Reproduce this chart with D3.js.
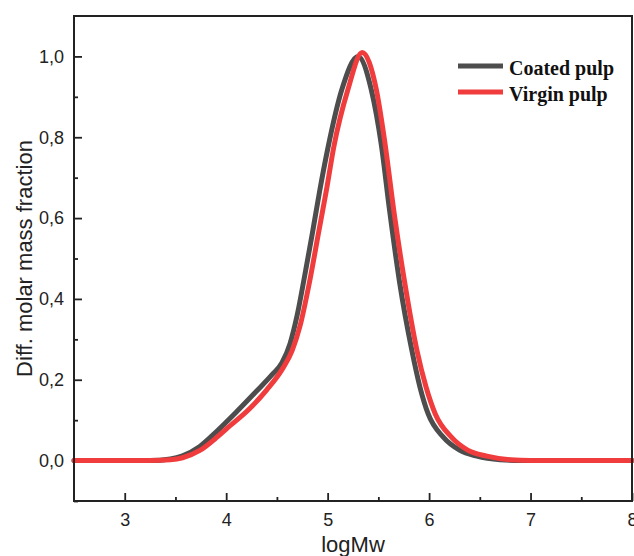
<!DOCTYPE html>
<html>
<head>
<meta charset="utf-8">
<script src="https://cdn.jsdelivr.net/npm/d3@7"></script>
<style>
  body { margin: 0; background: #fff; }
  svg { display: block; }
  .tick text { font-family: "Liberation Sans", Arial, sans-serif; font-size: 18px; fill: #222; }
</style>
</head>
<body>
<div id="chart"></div>
<script>
// series: [logMw, diff. molar mass fraction]
const coatedPulp = [
  [2.5, 0], [3.25, 0], [3.45, 0.004], [3.57, 0.012], [3.74, 0.035], [3.91, 0.073],
  [4.1, 0.12], [4.3, 0.172], [4.45, 0.212], [4.55, 0.242], [4.63, 0.29],
  [4.7, 0.36], [4.77, 0.452], [4.85, 0.563], [4.92, 0.665], [5.0, 0.77],
  [5.14, 0.918], [5.30, 1.0], [5.43, 0.918], [5.53, 0.78], [5.61, 0.62],
  [5.71, 0.44], [5.83, 0.273], [5.91, 0.182], [5.99, 0.116], [6.14, 0.058],
  [6.30, 0.026], [6.47, 0.011], [6.70, 0.002], [6.9, 0], [8, 0]
];
const virginPulp = [
  [2.5, 0], [3.25, 0], [3.45, 0.002], [3.57, 0.007], [3.74, 0.025], [3.91, 0.058],
  [4.0, 0.078], [4.23, 0.128], [4.4, 0.175], [4.55, 0.225], [4.65, 0.272],
  [4.73, 0.335], [4.82, 0.44], [4.91, 0.563], [4.99, 0.672], [5.06, 0.775],
  [5.20, 0.918], [5.34, 1.01], [5.48, 0.918], [5.56, 0.794], [5.66, 0.604],
  [5.76, 0.44], [5.88, 0.273], [5.97, 0.182], [6.06, 0.116], [6.22, 0.058],
  [6.38, 0.026], [6.57, 0.011], [6.80, 0.002], [7.0, 0], [8, 0]
];
const seriesNames = ['Coated pulp', 'Virgin pulp'];
const seriesColors = ['#4d4d4d', '#f03c3c'];
const xTicks = [3, 4, 5, 6, 7, 8];
const xMinor = [3.5, 4.5, 5.5, 6.5, 7.5];
const yTicks = [0, 0.2, 0.4, 0.6, 0.8, 1.0];
const yMinor = [-0.1, 0.1, 0.3, 0.5, 0.7, 0.9];

const W = 634, H = 556;
const margin = {top: 16, right: 2, bottom: 55, left: 74};
const width = W - margin.left - margin.right;
const height = H - margin.top - margin.bottom;

const svg = d3.select('#chart').append('svg').attr('width', W).attr('height', H);
const g = svg.append('g').attr('transform', 'translate(' + margin.left + ',' + margin.top + ')');

const x = d3.scaleLinear().domain([2.5, 8]).range([0, width]);
const y = d3.scaleLinear().domain([-0.1, 1.1]).range([height, 0]);

const fmt = d => d3.format('.1f')(d).replace('.', ',');

// minor ticks first, then major ticks with labels (inward)
g.append('g').attr('transform', 'translate(0,' + height + ')')
  .call(d3.axisBottom(x).tickValues(xMinor).tickSize(-4).tickFormat(''))
  .call(a => a.select('.domain').remove());
g.append('g').attr('transform', 'translate(0,' + height + ')')
  .call(d3.axisBottom(x).tickValues(xTicks).tickSize(-8).tickPadding(12).tickFormat(d3.format('d')))
  .call(a => a.select('.domain').remove());
g.append('g')
  .call(d3.axisLeft(y).tickValues(yMinor).tickSize(-4).tickFormat(''))
  .call(a => a.select('.domain').remove());
g.append('g')
  .call(d3.axisLeft(y).tickValues(yTicks).tickSize(-8).tickPadding(10).tickFormat(fmt))
  .call(a => a.select('.domain').remove());
g.selectAll('.tick line').attr('stroke', '#222').attr('stroke-width', 1.8);
g.selectAll('.tick text').attr('fill', '#222');

// curves
const line = d3.line()
  .x(d => x(d[0]))
  .y(d => y(d[1]))
  .curve(d3.curveMonotoneX);

[coatedPulp, virginPulp].forEach((s, i) => {
  g.append('path')
    .datum(s)
    .attr('fill', 'none')
    .attr('stroke', seriesColors[i])
    .attr('stroke-width', 5)
    .attr('stroke-linejoin', 'round')
    .attr('stroke-linecap', 'round')
    .attr('d', line);
});

// frame
g.append('rect')
  .attr('width', width).attr('height', height)
  .attr('fill', 'none').attr('stroke', '#222').attr('stroke-width', 2);

// axis titles
svg.append('text')
  .attr('x', margin.left + width / 2).attr('y', 552)
  .attr('text-anchor', 'middle')
  .style('font-family', '"Liberation Sans", Arial, sans-serif')
  .style('font-size', '22px').attr('fill', '#222')
  .text('logMw');
svg.append('text')
  .attr('transform', 'rotate(-90)')
  .attr('x', -(margin.top + height / 2)).attr('y', 32)
  .attr('text-anchor', 'middle')
  .style('font-family', '"Liberation Sans", Arial, sans-serif')
  .style('font-size', '22px').attr('fill', '#222')
  .text('Diff. molar mass fraction');

// legend
const legend = svg.append('g').attr('transform', 'translate(458,66)');
seriesNames.forEach((name, i) => {
  const row = legend.append('g').attr('transform', 'translate(0,' + (i * 26) + ')');
  row.append('line').attr('x1', 0).attr('x2', 45)
    .attr('stroke', seriesColors[i]).attr('stroke-width', 5);
  row.append('text').attr('x', 51).attr('y', 9)
    .style('font-family', '"Liberation Serif", "Times New Roman", serif')
    .style('font-weight', 'bold').style('font-size', '20px').attr('fill', '#111')
    .text(name);
});
</script>
</body>
</html>
